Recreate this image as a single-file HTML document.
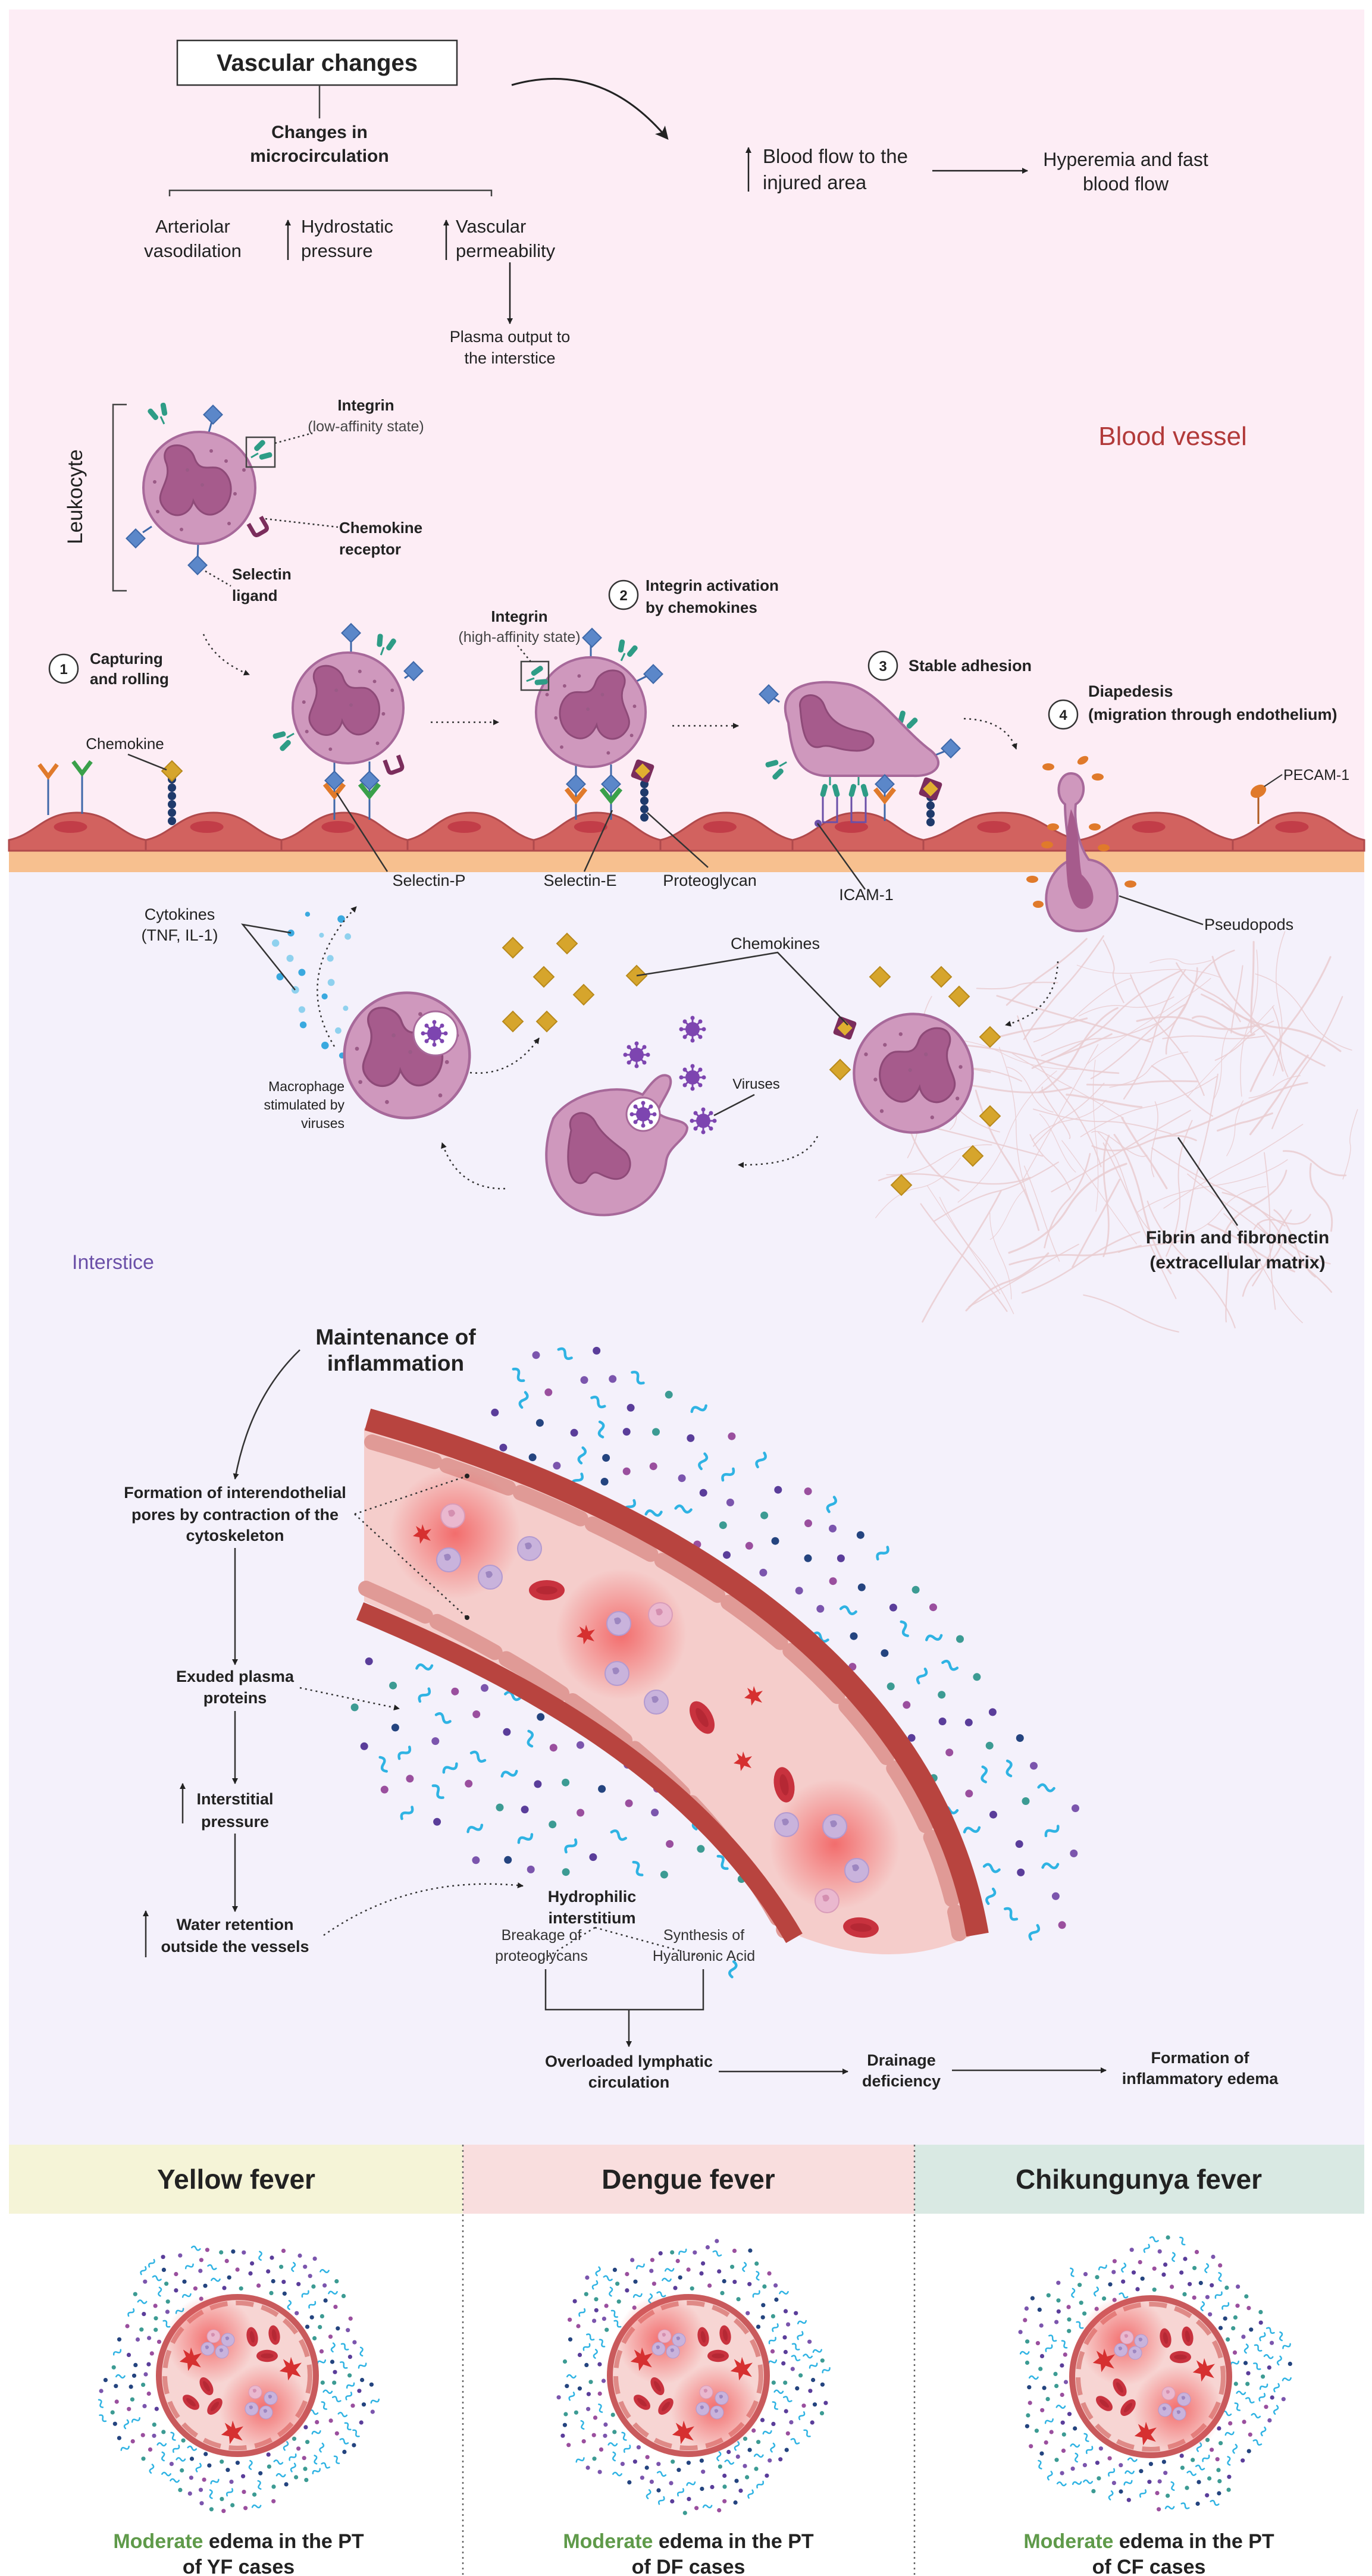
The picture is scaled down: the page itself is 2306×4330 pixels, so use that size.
<!DOCTYPE html>
<html><head><meta charset="utf-8">
<style>
html,body{margin:0;padding:0;background:#fff;}
svg{display:block;}
text{font-family:"Liberation Sans",Arial,sans-serif;fill:#222;}
.b{font-weight:bold;}
</style></head>
<body>
<svg id="s" width="2306" height="4330" viewBox="0 0 2306 4330">
<defs>
<marker id="ah" markerWidth="16" markerHeight="16" refX="12" refY="7" orient="auto" markerUnits="userSpaceOnUse"><path d="M0,0 L14,7 L0,14 z" fill="#222"/></marker>
<marker id="ahs" markerWidth="12" markerHeight="12" refX="9" refY="5" orient="auto" markerUnits="userSpaceOnUse"><path d="M0,0 L10,5 L0,10 z" fill="#222"/></marker>
<marker id="ahb" markerWidth="24" markerHeight="24" refX="18" refY="11" orient="auto" markerUnits="userSpaceOnUse"><path d="M0,0 L22,11 L0,22 L5,11 z" fill="#222"/></marker>
<radialGradient id="glow"><stop offset="0" stop-color="#f25c5c" stop-opacity="0.85"/><stop offset="1" stop-color="#f25c5c" stop-opacity="0"/></radialGradient>
<g id="nuc"><path d="M-55,-40 C-72,-78 -18,-82 -8,-50 C2,-22 22,-42 38,-30 C62,-12 56,30 30,42 C10,52 -4,36 -10,22 C-16,48 -46,56 -62,30 C-76,8 -46,-10 -55,-40Z" fill="#a65b8c" stroke="#8e4a78" stroke-width="3"/></g>
<g id="leuk"><circle r="94" fill="#cf98bd" stroke="#a7699a" stroke-width="4"/><use href="#nuc"/>
<g fill="#9a5a86"><circle cx="20" cy="-62" r="3"/><circle cx="45" cy="-45" r="3"/><circle cx="-20" cy="-30" r="3"/><circle cx="60" cy="10" r="3"/><circle cx="-70" cy="40" r="3"/><circle cx="-30" cy="70" r="3"/><circle cx="50" cy="60" r="3"/><circle cx="5" cy="-5" r="3"/><circle cx="-75" cy="-10" r="3"/><circle cx="75" cy="-30" r="3"/></g></g>
<g id="dia"><rect x="-11" y="-11" width="22" height="22" transform="rotate(45)" fill="#5b87c9" stroke="#3e68a9" stroke-width="2"/></g>
<g id="itg"><line x1="0" y1="0" x2="0" y2="14" stroke="#2e9c86" stroke-width="3"/><rect x="-12" y="-22" width="9" height="22" rx="4" transform="rotate(-15)" fill="#2e9c86"/><rect x="3" y="-22" width="9" height="22" rx="4" transform="rotate(15)" fill="#2e9c86"/></g>
<g id="chr"><path d="M-12,-12 L-12,6 Q-12,12 -6,12 L6,12 Q12,12 12,6 L12,-12" stroke="#7b2d5c" stroke-width="7" fill="none"/></g>
<g id="yel"><rect x="-12" y="-12" width="24" height="24" transform="rotate(45)" fill="#d6a52c" stroke="#b8891c" stroke-width="2"/></g>
<g id="pg"><rect x="-16" y="-16" width="32" height="32" rx="4" transform="rotate(20)" fill="#7b2d5c"/><rect x="-9" y="-9" width="18" height="18" transform="rotate(45)" fill="#e0b030"/></g>
<g id="vir"><g stroke="#7d45b0" stroke-width="3"><line x1="-18" y1="0" x2="18" y2="0"/><line x1="0" y1="-18" x2="0" y2="18"/><line x1="-13" y1="-13" x2="13" y2="13"/><line x1="-13" y1="13" x2="13" y2="-13"/></g><circle r="12" fill="#7d45b0"/><g fill="#7d45b0"><circle cx="19" cy="0" r="3.5"/><circle cx="-19" cy="0" r="3.5"/><circle cx="0" cy="19" r="3.5"/><circle cx="0" cy="-19" r="3.5"/><circle cx="13" cy="13" r="3.5"/><circle cx="-13" cy="-13" r="3.5"/><circle cx="13" cy="-13" r="3.5"/><circle cx="-13" cy="13" r="3.5"/></g></g>
<g id="rbc"><ellipse rx="30" ry="17" fill="#c8323e"/><ellipse rx="18" ry="7" fill="#a8222e" opacity="0.6"/></g>
<g id="wbc"><circle r="20" fill="#c9b3dc" stroke="#b39ad0" stroke-width="2"/><path d="M-8,-8 q10,-6 12,4 q-4,8 -10,4" fill="#9d86c0"/></g>
<g id="wbp"><circle r="20" fill="#eab8cf" stroke="#d99cb9" stroke-width="2"/><path d="M-8,-8 q10,-6 12,4 q-4,8 -10,4" fill="#d48fb0"/></g>
<g id="plt"><path d="M0,-16 L4,-5 L15,-8 L7,2 L14,12 L2,8 L-4,17 L-5,6 L-16,4 L-7,-3 L-11,-13 L-2,-7Z" fill="#d63030"/></g>
<g id="xs">
<circle r="132" fill="#f7d5d3" stroke="#c95a5c" stroke-width="10"/>
<circle r="122" fill="none" stroke="#df8a87" stroke-width="8" stroke-dasharray="30 14"/>
<circle cx="-45" cy="-60" r="75" fill="url(#glow)"/><circle cx="45" cy="55" r="75" fill="url(#glow)"/>
<g transform="translate(25,-65) rotate(80) scale(0.55)"><use href="#rbc"/></g>
<g transform="translate(62,-68) rotate(80) scale(0.55)"><use href="#rbc"/></g>
<g transform="translate(50,-33) scale(0.6)"><use href="#rbc"/></g>
<g transform="translate(-52,18) rotate(60) scale(0.55)"><use href="#rbc"/></g>
<g transform="translate(-78,45) rotate(40) scale(0.55)"><use href="#rbc"/></g>
<g transform="translate(-38,52) rotate(-50) scale(0.55)"><use href="#rbc"/></g>
<g transform="translate(-40,-66) scale(0.55)"><use href="#wbp"/></g><g transform="translate(-16,-60) scale(0.55)"><use href="#wbc"/></g><g transform="translate(-50,-45) scale(0.55)"><use href="#wbc"/></g><g transform="translate(-26,-40) scale(0.55)"><use href="#wbc"/></g>
<g transform="translate(30,28) scale(0.55)"><use href="#wbp"/></g><g transform="translate(56,38) scale(0.55)"><use href="#wbc"/></g><g transform="translate(24,56) scale(0.55)"><use href="#wbc"/></g><g transform="translate(48,62) scale(0.55)"><use href="#wbc"/></g>
<g transform="translate(-78,-28) scale(1.2)"><use href="#plt"/></g><g transform="translate(90,-12) scale(1.2)"><use href="#plt"/></g><g transform="translate(-8,95) scale(1.2)"><use href="#plt"/></g>
</g>
</defs>

<rect x="0" y="0" width="2306" height="4330" fill="#fff"/>
<rect x="15" y="16" width="2278" height="1410" fill="#fdedf5"/>
<rect x="15" y="1421" width="2278" height="45" fill="#f7c08f"/>
<rect x="15" y="1466" width="2278" height="2139" fill="#f4f1fb"/>
<rect x="15" y="3605" width="763" height="116" fill="#f5f4d7"/>
<rect x="778" y="3605" width="759" height="116" fill="#f9dede"/>
<rect x="1537" y="3605" width="756" height="116" fill="#d9e9e3"/>
<line x1="778" y1="3605" x2="778" y2="4330" stroke="#666" stroke-width="2.5" stroke-dasharray="3 6"/>
<line x1="1537" y1="3605" x2="1537" y2="4330" stroke="#666" stroke-width="2.5" stroke-dasharray="3 6"/>

<g id="fib"></g>
<g id="endo"></g>
<g id="parts"></g>
<g id="cyt"></g>

<!-- Top flow -->
<rect x="298" y="68" width="470" height="75" fill="#fff" stroke="#333" stroke-width="2.5"/>
<text x="533" y="119" font-size="40" class="b" text-anchor="middle">Vascular changes</text>
<line x1="537" y1="143" x2="537" y2="199" stroke="#444" stroke-width="2.5"/>
<text x="537" y="232" font-size="30" class="b" text-anchor="middle">Changes in</text>
<text x="537" y="272" font-size="30" class="b" text-anchor="middle">microcirculation</text>
<path d="M285,330 V320 H826 V330" fill="none" stroke="#444" stroke-width="2.5"/>
<text x="324" y="391" font-size="31" text-anchor="middle">Arteriolar</text>
<text x="324" y="432" font-size="31" text-anchor="middle">vasodilation</text>
<line x1="484" y1="437" x2="484" y2="370" stroke="#222" stroke-width="2.5" marker-end="url(#ahs)"/>
<text x="506" y="391" font-size="31">Hydrostatic</text><text x="506" y="432" font-size="31">pressure</text>
<line x1="750" y1="437" x2="750" y2="370" stroke="#222" stroke-width="2.5" marker-end="url(#ahs)"/>
<text x="766" y="391" font-size="31">Vascular</text><text x="766" y="432" font-size="31">permeability</text>
<line x1="857" y1="441" x2="857" y2="544" stroke="#222" stroke-width="2.5" marker-end="url(#ahs)"/>
<text x="857" y="575" font-size="27" text-anchor="middle">Plasma output to</text>
<text x="857" y="611" font-size="27" text-anchor="middle">the interstice</text>
<path d="M860,143 Q1010,100 1121,232" fill="none" stroke="#222" stroke-width="3" marker-end="url(#ahb)"/>
<line x1="1258" y1="322" x2="1258" y2="248" stroke="#222" stroke-width="2.5" marker-end="url(#ahs)"/>
<text x="1282" y="274" font-size="33">Blood flow to the</text><text x="1282" y="318" font-size="33">injured area</text>
<line x1="1567" y1="287" x2="1727" y2="287" stroke="#222" stroke-width="2.5" marker-end="url(#ahs)"/>
<text x="1892" y="279" font-size="32" text-anchor="middle">Hyperemia and fast</text>
<text x="1892" y="320" font-size="32" text-anchor="middle">blood flow</text>
<text x="1971" y="748" font-size="44" text-anchor="middle" style="fill:#b23a3a">Blood vessel</text>

<!-- Leukocyte legend -->
<path d="M213,680 H190 V993 H213" fill="none" stroke="#444" stroke-width="2.5"/>
<text transform="translate(138,835) rotate(-90)" font-size="35" text-anchor="middle">Leukocyte</text>
<g transform="translate(270,700) rotate(-25)"><use href="#itg"/></g>
<line x1="357" y1="705" x2="350" y2="730" stroke="#3e68a9" stroke-width="3"/><use href="#dia" x="358" y="697"/>
<line x1="240" y1="895" x2="255" y2="885" stroke="#3e68a9" stroke-width="3"/><use href="#dia" x="228" y="905"/>
<line x1="332" y1="940" x2="333" y2="913" stroke="#3e68a9" stroke-width="3"/>
<use href="#leuk" transform="translate(335,820)"/>
<use href="#dia" x="332" y="950"/>
<g transform="translate(434,762) rotate(60)"><use href="#itg"/></g>
<rect x="414" y="735" width="48" height="50" fill="none" stroke="#444" stroke-width="2.5"/>
<g transform="translate(434,885) rotate(-30)"><use href="#chr"/></g>
<path d="M462,745 L525,728" stroke="#333" stroke-width="2.5" stroke-dasharray="3 5" fill="none"/>
<path d="M446,872 L568,886" stroke="#333" stroke-width="2.5" stroke-dasharray="3 5" fill="none"/>
<path d="M345,960 L388,985" stroke="#333" stroke-width="2.5" stroke-dasharray="3 5" fill="none"/>
<text x="615" y="690" font-size="26" class="b" text-anchor="middle">Integrin</text>
<text x="615" y="725" font-size="25" text-anchor="middle" style="fill:#444">(low-affinity state)</text>
<text x="570" y="896" font-size="26" class="b">Chemokine</text><text x="570" y="932" font-size="26" class="b">receptor</text>
<text x="390" y="974" font-size="26" class="b">Selectin</text><text x="390" y="1010" font-size="26" class="b">ligand</text>

<circle cx="107" cy="1124" r="24" fill="#fff" stroke="#333" stroke-width="2.5"/><text x="107" y="1133" font-size="24" text-anchor="middle" class="b">1</text>
<text x="151" y="1116" font-size="26" class="b">Capturing</text><text x="151" y="1150" font-size="26" class="b">and rolling</text>
<circle cx="1048" cy="1000" r="24" fill="#fff" stroke="#333" stroke-width="2.5"/><text x="1048" y="1009" font-size="24" text-anchor="middle" class="b">2</text>
<text x="1085" y="993" font-size="26" class="b">Integrin activation</text><text x="1085" y="1030" font-size="26" class="b">by chemokines</text>
<text x="873" y="1045" font-size="26" class="b" text-anchor="middle">Integrin</text>
<text x="873" y="1079" font-size="25" text-anchor="middle" style="fill:#444">(high-affinity state)</text>
<circle cx="1484" cy="1119" r="24" fill="#fff" stroke="#333" stroke-width="2.5"/><text x="1484" y="1128" font-size="24" text-anchor="middle" class="b">3</text>
<text x="1527" y="1128" font-size="27" class="b">Stable adhesion</text>
<circle cx="1787" cy="1201" r="24" fill="#fff" stroke="#333" stroke-width="2.5"/><text x="1787" y="1210" font-size="24" text-anchor="middle" class="b">4</text>
<text x="1829" y="1171" font-size="27" class="b">Diapedesis</text><text x="1829" y="1210" font-size="27" class="b">(migration through endothelium)</text>

<!-- dotted step arrows -->
<path d="M342,1066 Q360,1110 419,1134" fill="none" stroke="#333" stroke-width="2.5" stroke-dasharray="3 6" marker-end="url(#ahs)"/>
<path d="M724,1214 L838,1214" fill="none" stroke="#333" stroke-width="2.5" stroke-dasharray="3 6" marker-end="url(#ahs)"/>
<path d="M1130,1220 L1241,1220" fill="none" stroke="#333" stroke-width="2.5" stroke-dasharray="3 6" marker-end="url(#ahs)"/>
<path d="M1620,1208 Q1690,1210 1708,1259" fill="none" stroke="#333" stroke-width="2.5" stroke-dasharray="3 6" marker-end="url(#ahs)"/>

<!-- surface receptors on endothelium -->
<g stroke-width="3"><line x1="81" y1="1300" x2="81" y2="1370" stroke="#3e68a9"/><line x1="138" y1="1300" x2="138" y2="1368" stroke="#3e68a9"/></g>
<path d="M66,1285 L81,1305 L96,1285" stroke="#e07a2b" stroke-width="7" fill="none"/>
<path d="M123,1280 L138,1300 L153,1280" stroke="#3aa04a" stroke-width="7" fill="none"/>
<g fill="#1f3a6b"><circle cx="289" cy="1310" r="7"/><circle cx="289" cy="1324" r="7"/><circle cx="289" cy="1338" r="7"/><circle cx="289" cy="1352" r="7"/><circle cx="289" cy="1366" r="7"/><circle cx="289" cy="1380" r="7"/></g>
<use href="#yel" x="289" y="1296"/>
<line x1="215" y1="1268" x2="280" y2="1294" stroke="#333" stroke-width="2.5"/>
<text x="210" y="1259" font-size="26" text-anchor="middle">Chemokine</text>

<!-- cell 2 -->
<g transform="translate(482,1240) rotate(-120)"><use href="#itg"/></g>
<line x1="590" y1="1070" x2="590" y2="1100" stroke="#3e68a9" stroke-width="3"/><use href="#dia" x="590" y="1064"/>
<g transform="translate(645,1088) rotate(20)"><use href="#itg"/></g>
<line x1="680" y1="1140" x2="690" y2="1133" stroke="#3e68a9" stroke-width="3"/><use href="#dia" x="695" y="1128"/>
<g stroke="#3e68a9" stroke-width="3"><line x1="562" y1="1280" x2="562" y2="1378"/><line x1="621" y1="1280" x2="621" y2="1378"/></g>
<use href="#leuk" transform="translate(585,1190) scale(0.99)"/>
<path d="M546,1318 L562,1338 L578,1318" stroke="#e07a2b" stroke-width="8" fill="none"/>
<path d="M605,1318 L621,1338 L637,1318" stroke="#3aa04a" stroke-width="8" fill="none"/>
<use href="#dia" x="562" y="1312"/><use href="#dia" x="621" y="1312"/>
<g transform="translate(662,1285) rotate(-20)"><use href="#chr"/></g>

<!-- cell 3 -->
<line x1="993" y1="1080" x2="993" y2="1108" stroke="#3e68a9" stroke-width="3"/><use href="#dia" x="995" y="1072"/>
<g transform="translate(1050,1098) rotate(25)"><use href="#itg"/></g>
<line x1="1070" y1="1145" x2="1090" y2="1135" stroke="#3e68a9" stroke-width="3"/><use href="#dia" x="1098" y="1133"/>
<g stroke="#3e68a9" stroke-width="3"><line x1="968" y1="1285" x2="968" y2="1378"/><line x1="1027" y1="1285" x2="1027" y2="1378"/></g>
<use href="#leuk" transform="translate(993,1197) scale(-0.98,0.98)"/>
<g transform="translate(898,1140) rotate(70)"><use href="#itg"/></g>
<rect x="876" y="1112" width="46" height="48" fill="none" stroke="#444" stroke-width="2.5"/>
<path d="M870,1085 L892,1112" stroke="#333" stroke-width="2.5" stroke-dasharray="3 5"/>
<path d="M952,1326 L968,1346 L984,1326" stroke="#e07a2b" stroke-width="8" fill="none"/>
<path d="M1011,1326 L1027,1346 L1043,1326" stroke="#3aa04a" stroke-width="8" fill="none"/>
<use href="#dia" x="968" y="1318"/><use href="#dia" x="1027" y="1318"/>
<g fill="#1f3a6b"><circle cx="1083" cy="1318" r="7"/><circle cx="1083" cy="1332" r="7"/><circle cx="1083" cy="1346" r="7"/><circle cx="1083" cy="1360" r="7"/><circle cx="1083" cy="1374" r="7"/></g>
<use href="#pg" x="1080" y="1296"/>

<!-- cell 4 (stable adhesion) -->
<g stroke-width="3"><path d="M1383,1330 V1382 H1407 V1330" stroke="#6a4fa8" fill="none"/><path d="M1431,1330 V1382 H1455 V1330" stroke="#6a4fa8" fill="none"/><line x1="1487" y1="1310" x2="1487" y2="1380" stroke="#3e68a9"/></g>
<circle cx="1375" cy="1384" r="6" fill="#6a4fa8"/>
<g fill="#1f3a6b"><circle cx="1564" cy="1340" r="7"/><circle cx="1564" cy="1354" r="7"/><circle cx="1564" cy="1368" r="7"/><circle cx="1564" cy="1382" r="7"/></g>
<g transform="translate(1395,1320) rotate(180)"><use href="#itg"/></g><g transform="translate(1443,1320) rotate(180)"><use href="#itg"/></g>
<g transform="translate(1310,1288) rotate(-120)"><use href="#itg"/></g>
<g transform="translate(1520,1218) rotate(30)"><use href="#itg"/></g>
<line x1="1310" y1="1180" x2="1298" y2="1172" stroke="#3e68a9" stroke-width="3"/><use href="#dia" x="1292" y="1167"/>
<line x1="1565" y1="1272" x2="1590" y2="1262" stroke="#3e68a9" stroke-width="3"/><use href="#dia" x="1598" y="1258"/>
<path d="M1325,1215 C1300,1150 1370,1140 1425,1150 C1475,1160 1515,1225 1565,1262 C1592,1285 1570,1306 1535,1304 L1385,1304 C1338,1300 1330,1260 1325,1215Z" fill="#cf98bd" stroke="#a7699a" stroke-width="4"/>
<path d="M1345,1190 C1340,1165 1375,1160 1385,1185 C1395,1215 1420,1225 1450,1230 C1480,1238 1470,1262 1440,1262 C1410,1262 1395,1250 1380,1255 C1355,1262 1348,1230 1345,1190Z" fill="#a65b8c" stroke="#8e4a78" stroke-width="3"/>
<path d="M1471,1326 L1487,1346 L1503,1326" stroke="#e07a2b" stroke-width="8" fill="none"/><use href="#dia" x="1487" y="1318"/>
<use href="#pg" x="1564" y="1326"/>

<!-- diapedesis cell -->
<path d="M1800,1300 C1825,1300 1828,1340 1808,1352 C1805,1380 1812,1420 1830,1445 C1870,1450 1885,1495 1875,1525 C1862,1570 1790,1580 1765,1540 C1748,1505 1765,1460 1800,1445 C1795,1410 1790,1380 1790,1352 C1772,1338 1778,1300 1800,1300Z" fill="#cf98bd" stroke="#a7699a" stroke-width="4"/>
<path d="M1800,1360 C1815,1390 1812,1440 1818,1470 C1840,1490 1845,1520 1825,1527 C1805,1532 1800,1510 1795,1490 C1790,1450 1790,1400 1800,1360Z" fill="#a65b8c"/>
<g fill="#e07a2b"><ellipse cx="1762" cy="1289" rx="10" ry="6"/><ellipse cx="1820" cy="1278" rx="10" ry="6" transform="rotate(-30 1820 1278)"/><ellipse cx="1845" cy="1306" rx="10" ry="6"/><ellipse cx="1770" cy="1390" rx="10" ry="6"/><ellipse cx="1840" cy="1390" rx="10" ry="6"/><ellipse cx="1760" cy="1420" rx="10" ry="6"/><ellipse cx="1855" cy="1425" rx="10" ry="6"/><ellipse cx="1735" cy="1478" rx="10" ry="6"/><ellipse cx="1900" cy="1486" rx="10" ry="6"/><ellipse cx="1745" cy="1520" rx="9" ry="6"/></g>
<line x1="2115" y1="1335" x2="2115" y2="1385" stroke="#b05a20" stroke-width="3"/>
<ellipse cx="2115" cy="1330" rx="14" ry="10" fill="#e07a2b" transform="rotate(-30 2115 1330)"/>
<line x1="2125" y1="1322" x2="2155" y2="1302" stroke="#333" stroke-width="2"/>
<text x="2157" y="1311" font-size="25">PECAM-1</text>

<!-- leader lines and labels -->
<g stroke="#333" stroke-width="2.5" fill="none">
<line x1="566" y1="1333" x2="651" y2="1465"/>
<line x1="1029" y1="1362" x2="982" y2="1465"/>
<path d="M1088,1366 L1190,1458"/>
<line x1="1374" y1="1384" x2="1454" y2="1495"/>
<line x1="1881" y1="1506" x2="2022" y2="1554"/>
</g>
<text x="721" y="1489" font-size="27" text-anchor="middle">Selectin-P</text>
<text x="975" y="1489" font-size="27" text-anchor="middle">Selectin-E</text>
<text x="1193" y="1489" font-size="27" text-anchor="middle">Proteoglycan</text>
<text x="1456" y="1513" font-size="27" text-anchor="middle">ICAM-1</text>
<text x="2024" y="1563" font-size="27">Pseudopods</text>

<!-- interstice -->
<text x="302" y="1546" font-size="27" text-anchor="middle">Cytokines</text>
<text x="302" y="1581" font-size="27" text-anchor="middle">(TNF, IL-1)</text>
<path d="M489,1568 L408,1554 L496,1664" stroke="#333" stroke-width="2.5" fill="none"/>
<path d="M562,1759 Q490,1640 599,1524" fill="none" stroke="#333" stroke-width="2.5" stroke-dasharray="3 6" marker-end="url(#ahs)"/>
<use href="#leuk" transform="translate(684,1774) scale(1.12)"/>
<circle cx="732" cy="1737" r="37" fill="#fff" stroke="#a7699a" stroke-width="3"/>
<use href="#vir" x="730" y="1737"/>
<text x="579" y="1834" font-size="23" text-anchor="end">Macrophage</text>
<text x="579" y="1865" font-size="23" text-anchor="end">stimulated by</text>
<text x="579" y="1896" font-size="23" text-anchor="end">viruses</text>
<path d="M790,1803 Q860,1810 906,1745" fill="none" stroke="#333" stroke-width="2.5" stroke-dasharray="3 6" marker-end="url(#ahs)"/>
<g><use href="#yel" x="862" y="1593"/><use href="#yel" x="953" y="1586"/><use href="#yel" x="914" y="1642"/><use href="#yel" x="981" y="1672"/><use href="#yel" x="862" y="1717"/><use href="#yel" x="919" y="1717"/><use href="#yel" x="1070" y="1640"/>
<use href="#yel" x="1479" y="1642"/><use href="#yel" x="1582" y="1642"/><use href="#yel" x="1612" y="1675"/><use href="#yel" x="1664" y="1743"/><use href="#yel" x="1412" y="1798"/><use href="#yel" x="1664" y="1876"/><use href="#yel" x="1635" y="1943"/><use href="#yel" x="1515" y="1992"/></g>
<!-- virus eating cell -->
<path d="M930,1880 C960,1835 1040,1820 1080,1840 C1095,1820 1110,1800 1125,1810 C1135,1825 1110,1850 1105,1870 C1120,1885 1150,1880 1155,1895 C1155,1915 1125,1925 1120,1950 C1110,2030 1040,2050 990,2040 C930,2030 900,1960 930,1880Z" fill="#cf98bd" stroke="#a7699a" stroke-width="4"/>
<path d="M960,1900 C950,1870 985,1860 1000,1885 C1010,1905 1030,1920 1050,1935 C1070,1955 1055,1990 1025,1980 C1005,1975 1000,1960 985,1985 C965,2000 945,1970 960,1900Z" fill="#a65b8c" stroke="#8e4a78" stroke-width="3"/>
<circle cx="1081" cy="1873" r="28" fill="#fff" stroke="#a7699a" stroke-width="3"/>
<use href="#vir" x="1081" y="1873"/>
<use href="#vir" x="1070" y="1773"/><use href="#vir" x="1164" y="1730"/><use href="#vir" x="1164" y="1811"/><use href="#vir" x="1182" y="1884"/>
<line x1="1200" y1="1875" x2="1268" y2="1840" stroke="#333" stroke-width="2.5"/>
<text x="1271" y="1830" font-size="24" text-anchor="middle">Viruses</text>
<path d="M849,1998 Q770,2000 743,1921" fill="none" stroke="#333" stroke-width="2.5" stroke-dasharray="3 6" marker-end="url(#ahs)"/>
<!-- right cell -->
<use href="#leuk" transform="translate(1535,1804) scale(-1.06,1.06)"/>
<use href="#pg" x="1420" y="1728"/>
<path d="M1070,1640 L1153,1627 L1307,1601 L1425,1723" stroke="#333" stroke-width="2.5" fill="none"/>
<text x="1303" y="1595" font-size="27" text-anchor="middle">Chemokines</text>
<path d="M1374,1910 Q1350,1960 1241,1958" fill="none" stroke="#333" stroke-width="2.5" stroke-dasharray="3 6" marker-end="url(#ahs)"/>
<path d="M1778,1616 Q1775,1700 1690,1723" fill="none" stroke="#333" stroke-width="2.5" stroke-dasharray="3 6" marker-end="url(#ahs)"/>
<line x1="1980" y1="1912" x2="2080" y2="2060" stroke="#333" stroke-width="2.5"/>
<text x="2080" y="2090" font-size="30" class="b" text-anchor="middle">Fibrin and fibronectin</text>
<text x="2080" y="2132" font-size="30" class="b" text-anchor="middle">(extracellular matrix)</text>
<text x="121" y="2133" font-size="34" style="fill:#6b50a8">Interstice</text>

<!-- Vessel section -->
<path d="M612,2400 C1285,2592 1575,2920 1630,3255 Q1500,3315 1345,3255 C1180,2985 900,2820 612,2692 Z" fill="#f5cdcb"/>
<path d="M625,2424 C1280,2612 1560,2935 1612,3250" fill="none" stroke="#e09a96" stroke-width="26" stroke-dasharray="110 22" stroke-linecap="round"/>
<path d="M615,2670 C900,2795 1165,2962 1318,3245" fill="none" stroke="#e09a96" stroke-width="26" stroke-dasharray="110 22" stroke-linecap="round"/>
<circle cx="765" cy="2578" r="110" fill="url(#glow)"/><circle cx="1044" cy="2747" r="110" fill="url(#glow)"/><circle cx="1403" cy="3100" r="110" fill="url(#glow)"/>
<path d="M618,2386 C1290,2578 1585,2912 1643,3252" fill="none" stroke="#b8443f" stroke-width="38"/>
<path d="M605,2708 C900,2830 1180,2990 1335,3258" fill="none" stroke="#b8443f" stroke-width="32"/>
<g transform="translate(919,2673)"><use href="#rbc"/></g>
<g transform="translate(1180,2887) rotate(60)"><use href="#rbc"/></g>
<g transform="translate(1318,3000) rotate(80)"><use href="#rbc"/></g>
<g transform="translate(1447,3240) rotate(5)"><use href="#rbc"/></g>
<g transform="translate(761,2548)"><use href="#wbp"/></g><g transform="translate(754,2622)"><use href="#wbc"/></g><g transform="translate(824,2651)"><use href="#wbc"/></g><g transform="translate(890,2603)"><use href="#wbc"/></g>
<g transform="translate(1040,2729)"><use href="#wbc"/></g><g transform="translate(1110,2714)"><use href="#wbp"/></g><g transform="translate(1037,2813)"><use href="#wbc"/></g><g transform="translate(1103,2861)"><use href="#wbc"/></g>
<g transform="translate(1322,3067)"><use href="#wbc"/></g><g transform="translate(1403,3070)"><use href="#wbc"/></g><g transform="translate(1440,3144)"><use href="#wbc"/></g><g transform="translate(1390,3195)"><use href="#wbp"/></g>
<use href="#plt" x="710" y="2578"/><use href="#plt" x="985" y="2747"/><use href="#plt" x="1267" y="2850"/><use href="#plt" x="1249" y="2960"/>
<path id="vesselmask" d="M621,2368 C1300,2560 1600,2900 1660,3245 L1345,3280 C1180,3000 900,2845 601,2728 Z" fill="none"/>
<path id="cloudA" d="M830,2290 L1000,2250 L1150,2330 L1300,2470 L1450,2560 L1600,2720 L1700,2850 L1820,3050 L1790,3240 L1700,3260 L1660,3245 L1521,2953 L1374,2754 L1153,2595 L830,2480 Z" fill="none"/>
<path id="cloudB" d="M600,2790 L700,2770 L900,2860 L1153,3005 L1280,3170 L1230,3320 L1100,3290 L960,3200 L860,3150 L760,3120 L640,3020 L590,2900 Z" fill="none"/>

<text x="665" y="2260" font-size="37" class="b" text-anchor="middle">Maintenance of</text>
<text x="665" y="2304" font-size="37" class="b" text-anchor="middle">inflammation</text>
<path d="M504,2269 Q420,2350 395,2486" fill="none" stroke="#333" stroke-width="2.5" marker-end="url(#ahs)"/>
<text x="395" y="2518" font-size="27" class="b" text-anchor="middle">Formation of interendothelial</text>
<text x="395" y="2555" font-size="27" class="b" text-anchor="middle">pores by contraction of the</text>
<text x="395" y="2590" font-size="27" class="b" text-anchor="middle">cytoskeleton</text>
<g stroke="#333" stroke-width="2.5" fill="none" stroke-dasharray="3 6"><path d="M596,2545 L785,2481"/><path d="M596,2545 L785,2719"/><path d="M504,2837 L671,2872" marker-end="url(#ahs)"/><path d="M544,3253 Q690,3150 879,3170" marker-end="url(#ahs)"/><path d="M1000,3240 L904,3299"/><path d="M1000,3240 L1183,3290"/></g>
<circle cx="785" cy="2481" r="4" fill="#222"/><circle cx="785" cy="2719" r="4" fill="#222"/>
<g stroke="#333" stroke-width="2.5" marker-end="url(#ahs)"><line x1="395" y1="2602" x2="395" y2="2798"/><line x1="395" y1="2876" x2="395" y2="2998"/><line x1="395" y1="3082" x2="395" y2="3213"/><line x1="307" y1="3065" x2="307" y2="2998"/><line x1="245" y1="3290" x2="245" y2="3212"/></g>
<text x="395" y="2827" font-size="27" class="b" text-anchor="middle">Exuded plasma</text>
<text x="395" y="2863" font-size="27" class="b" text-anchor="middle">proteins</text>
<text x="395" y="3033" font-size="27" class="b" text-anchor="middle">Interstitial</text>
<text x="395" y="3071" font-size="27" class="b" text-anchor="middle">pressure</text>
<text x="395" y="3244" font-size="27" class="b" text-anchor="middle">Water retention</text>
<text x="395" y="3281" font-size="27" class="b" text-anchor="middle">outside the vessels</text>
<text x="995" y="3197" font-size="27" class="b" text-anchor="middle">Hydrophilic</text>
<text x="995" y="3233" font-size="27" class="b" text-anchor="middle">interstitium</text>
<text x="910" y="3261" font-size="25" text-anchor="middle" style="fill:#333">Breakage of</text>
<text x="910" y="3296" font-size="25" text-anchor="middle" style="fill:#333">proteoglycans</text>
<text x="1183" y="3261" font-size="25" text-anchor="middle" style="fill:#333">Synthesis of</text>
<text x="1183" y="3296" font-size="25" text-anchor="middle" style="fill:#333">Hyaluronic Acid</text>
<path d="M917,3310 V3378 H1182 V3310" fill="none" stroke="#333" stroke-width="2.5"/>
<line x1="1057" y1="3378" x2="1057" y2="3440" stroke="#333" stroke-width="2.5" marker-end="url(#ahs)"/>
<text x="1057" y="3474" font-size="27" class="b" text-anchor="middle">Overloaded lymphatic</text>
<text x="1057" y="3509" font-size="27" class="b" text-anchor="middle">circulation</text>
<line x1="1208" y1="3482" x2="1425" y2="3482" stroke="#333" stroke-width="2.5" marker-end="url(#ahs)"/>
<text x="1515" y="3472" font-size="27" class="b" text-anchor="middle">Drainage</text>
<text x="1515" y="3507" font-size="27" class="b" text-anchor="middle">deficiency</text>
<line x1="1600" y1="3480" x2="1859" y2="3480" stroke="#333" stroke-width="2.5" marker-end="url(#ahs)"/>
<text x="2017" y="3468" font-size="27" class="b" text-anchor="middle">Formation of</text>
<text x="2017" y="3503" font-size="27" class="b" text-anchor="middle">inflammatory edema</text>

<!-- bottom panels -->
<text x="397" y="3679" font-size="46" class="b" text-anchor="middle">Yellow fever</text>
<text x="1157" y="3679" font-size="46" class="b" text-anchor="middle">Dengue fever</text>
<text x="1914" y="3679" font-size="46" class="b" text-anchor="middle">Chikungunya fever</text>
<g id="xsparts"></g>
<use href="#xs" transform="translate(399,3993)"/>
<use href="#xs" transform="translate(1157,3993)"/>
<use href="#xs" transform="translate(1934,3995)"/>
<text x="401" y="4283" font-size="34" class="b" text-anchor="middle"><tspan style="fill:#5f9a4a">Moderate</tspan> edema in the PT</text>
<text x="401" y="4326" font-size="34" class="b" text-anchor="middle">of YF cases</text>
<text x="1157" y="4283" font-size="34" class="b" text-anchor="middle"><tspan style="fill:#5f9a4a">Moderate</tspan> edema in the PT</text>
<text x="1157" y="4326" font-size="34" class="b" text-anchor="middle">of DF cases</text>
<text x="1931" y="4283" font-size="34" class="b" text-anchor="middle"><tspan style="fill:#5f9a4a">Moderate</tspan> edema in the PT</text>
<text x="1931" y="4326" font-size="34" class="b" text-anchor="middle">of CF cases</text>
</svg>
<script>
(function(){
var S=document.getElementById('s'),ns=S.namespaceURI;
var seed=98765;function r(){seed=(seed*1103515245+12345)%2147483648;return seed/2147483648;}
function el(t,a,p){var e=document.createElementNS(ns,t);for(var k in a)e.setAttribute(k,a[k]);(p||S).appendChild(e);return e;}
var gE=document.getElementById('endo'),gF=document.getElementById('fib'),gP=document.getElementById('parts'),gC=document.getElementById('cyt'),gX=document.getElementById('xsparts');
var b=[15,245,473,685,897,1110,1332,1552,1815,2072,2293],i;
for(i=0;i<b.length-1;i++){var x0=b[i],x1=b[i+1],w=x1-x0,m=(x0+x1)/2;
el('path',{d:'M'+x0+',1430 L'+x0+',1412 C'+(x0+w*0.2)+',1402 '+(m-w*0.25)+',1366 '+m+',1366 C'+(m+w*0.25)+',1366 '+(x1-w*0.2)+',1402 '+x1+',1412 L'+x1+',1430 Z',fill:'#d2625f',stroke:'#b04a4c','stroke-width':3},gE);
el('ellipse',{cx:m-w*0.05,cy:1390,rx:28,ry:10,fill:'#c23d48'},gE);}
for(i=0;i<140;i++){var a=r()*Math.PI*2,d=Math.sqrt(r());var cx=1900+Math.cos(a)*d*400,cy=1880+Math.sin(a)*d*330;var ang=r()*Math.PI,L=90+r()*200;var dx=Math.cos(ang)*L/2,dy=Math.sin(ang)*L/2;
if(cy-Math.abs(dy)<1560||cx+Math.abs(dx)>2290)continue;
var q1x=cx-dx/2+(r()-.5)*40,q1y=cy-dy/2+(r()-.5)*40;
el('path',{d:'M'+(cx-dx).toFixed(1)+','+(cy-dy).toFixed(1)+' Q'+q1x.toFixed(1)+','+q1y.toFixed(1)+' '+cx.toFixed(1)+','+cy.toFixed(1)+' T'+(cx+dx).toFixed(1)+','+(cy+dy).toFixed(1),stroke:'#e9cdd0','stroke-width':(1.2+r()*2).toFixed(1),fill:'none','stroke-linecap':'round',opacity:0.85},gF);}
var cols=['#7b55ad','#24447f','#3c9b93','#9a4f9e','#5a3d9a'];
function part(x,y,s,g){if(r()<0.3){var an=r()*360;el('path',{d:'M'+(-2*s)+',0 q'+s+','+(-1.5*s)+' '+(2*s)+',0 t'+(2*s)+',0',transform:'translate('+x.toFixed(1)+','+y.toFixed(1)+') rotate('+an.toFixed(0)+')',stroke:'#2fb3e3','stroke-width':(s*0.7).toFixed(1),fill:'none','stroke-linecap':'round'},g);}else el('circle',{cx:x.toFixed(1),cy:y.toFixed(1),r:s,fill:cols[Math.floor(r()*5)]},g);}
var vm=document.getElementById('vesselmask'),cA=document.getElementById('cloudA'),cB=document.getElementById('cloudB');
function inF(p,x,y){try{return p.isPointInFill({x:x,y:y});}catch(e){try{var pt=S.createSVGPoint();pt.x=x;pt.y=y;return p.isPointInFill(pt);}catch(e2){return false;}}}
var pts=[];function far(x,y,md){for(var j=0;j<pts.length;j++){var q=pts[j];if((q[0]-x)*(q[0]-x)+(q[1]-y)*(q[1]-y)<md*md)return false;}return true;}
for(i=0;i<6000;i++){var x=580+r()*1260,y=2240+r()*1100;
if(!(inF(cA,x,y)||inF(cB,x,y)))continue;if(inF(vm,x,y))continue;
if(x>890&&x<1270&&y>3160&&y<3310)continue;
if(!far(x,y,40))continue;pts.push([x,y]);part(x,y,6.5,gP);}
var cyz=[[665,660],[630,683],[663,718],[690,750],[755,718],[795,668],[780,628],[735,665],[757,773],[690,835],[790,832],[742,805],[693,870],[773,883],[743,917],[782,940],[703,617],[640,760],[675,790]];
for(i=0;i<cyz.length;i++){el('circle',{cx:(cyz[i][0]/1.36).toFixed(1),cy:(1083+cyz[i][1]/1.36).toFixed(1),r:(4+r()*2.5).toFixed(1),fill:r()<0.5?'#3aa9df':'#8fd1ee'},gC);}
var C=[[399,3993],[1157,3993],[1934,3995]];
for(var k=0;k<3;k++){pts=[];for(i=0;i<5000;i++){var a2=r()*Math.PI*2,rr=142+r()*100;var lim=225+14*Math.sin(5*a2+k);if(rr>lim)continue;var x2=C[k][0]+Math.cos(a2)*rr,y2=C[k][1]+Math.sin(a2)*rr;if(!far(x2,y2,17))continue;pts.push([x2,y2]);part(x2,y2,3.6,gX);}}
})();
</script>
</body></html>
